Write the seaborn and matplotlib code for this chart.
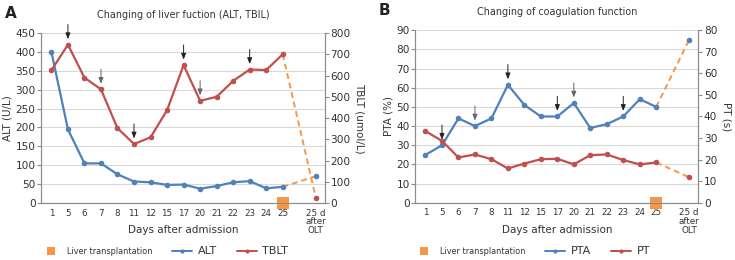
import numpy as np
import pandas as pd
import matplotlib
matplotlib.use("Agg")
import matplotlib.pyplot as plt
import seaborn as sns
from matplotlib.lines import Line2D

# ---------------- data ----------------
day_labels = ["1", "5", "6", "7", "8", "11", "12", "15", "17", "20", "21", "22", "23", "24", "25", "25 d\nafter\nOLT"]

alt = [400, 195, 105, 105, 76, 57, 55, 48, 49, 38, 45, 55, 58, 39, 43]
alt_after = 71
tblt = [625, 745, 590, 535, 352, 278, 309, 437, 649, 481, 500, 575, 628, 626, 700]
tblt_after = 25

pta = [25, 30, 44, 40, 44, 61.5, 51, 45, 45, 52, 39, 41, 45, 54, 50]
pta_after = 85
pt = [33.2, 28.7, 21, 22.4, 20.2, 15.9, 18.2, 20.2, 20.4, 17.8, 22.1, 22.4, 19.8, 17.8, 18.7]
pt_after = 11.8

arrow_idx = [1, 3, 5, 8, 9, 12]
transplant_idx = 14

BLUE = "#4f81bd"
RED = "#c0504d"
ORANGE = "#f79646"
GRID = "#d9d9d9"
SPINE = "#8c8c8c"

sns.set_theme(style="white")
plt.rcParams["font.family"] = ["DejaVu Sans"]

pos = list(range(len(alt))) + [len(alt) + 1]

fig = plt.figure(figsize=(7.35, 2.6), dpi=100)


def panel(rect, left_vals, left_after, right_vals, right_after, left_lim, left_step,
          right_lim, right_step, left_label, right_label, left_name, right_name,
          title, letter, arrow_on_right, leg_x):
    ax = fig.add_axes(rect)
    ax2 = ax.twinx()
    n = len(left_vals)
    x = list(range(n))
    dfl = pd.DataFrame({"x": x, "y": left_vals})
    dfr = pd.DataFrame({"x": x, "y": right_vals})
    sns.lineplot(data=dfl, x="x", y="y", ax=ax, color=BLUE, lw=1.6, marker="o",
                 markersize=4, markeredgewidth=0, zorder=3)
    sns.lineplot(data=dfr, x="x", y="y", ax=ax2, color=RED, lw=1.6, marker="o",
                 markersize=4, markeredgewidth=0, zorder=3)
    # dashed post-OLT segments
    ax.plot([x[-1], pos[-1]], [left_vals[-1], left_after], ls=(0, (3, 2)), color=ORANGE, lw=1.4, zorder=2)
    ax.plot([pos[-1]], [left_after], "o", color=BLUE, ms=4, mew=0, zorder=3)
    ax2.plot([x[-1], pos[-1]], [right_vals[-1], right_after], ls=(0, (3, 2)), color=ORANGE, lw=1.4, zorder=2)
    ax2.plot([pos[-1]], [right_after], "o", color=RED, ms=4, mew=0, zorder=3)
    # transplantation marker
    ax.plot([transplant_idx], [0], "s", color=ORANGE, ms=8, mew=0, clip_on=False, zorder=5)

    ax.set_xlim(-0.62, pos[-1] + 0.55)
    ax.set_ylim(0, left_lim)
    ax2.set_ylim(0, right_lim)
    ax.set_yticks(np.arange(0, left_lim + 1, left_step))
    ax2.set_yticks(np.arange(0, right_lim + 1, right_step))
    ax.set_xticks(pos)
    ax.set_xticklabels(day_labels, fontsize=6.3, va="top", linespacing=0.95)
    ax.tick_params(axis="x", length=0, pad=4, colors="#333333")
    ax.tick_params(axis="y", labelsize=7.6, length=3, width=0.8, color=SPINE, pad=1, labelcolor="#333333")
    ax2.tick_params(axis="y", labelsize=7.6, length=3, width=0.8, color=SPINE, pad=1, labelcolor="#333333")
    ax.yaxis.grid(True, color=GRID, lw=0.8)
    ax.set_axisbelow(True)
    for a in (ax, ax2):
        a.spines["top"].set_visible(False)
        for s in ("left", "right", "bottom"):
            a.spines[s].set_color(SPINE)
            a.spines[s].set_linewidth(0.8)
    ax.set_xlabel("Days after admission", fontsize=7.5, color="#333333")
    ax.xaxis.set_label_coords(0.5, -0.16)
    ax.xaxis.label.set_va("center")
    ax.set_ylabel(left_label, fontsize=7.5, color="#333333", labelpad=2)
    ax2.set_ylabel(right_label, fontsize=7.5, color="#333333", rotation=-90, labelpad=10)
    ax.set_title(title, fontsize=6.9, color="#333333", pad=11)
    ax.text(-0.128, 1.16, letter, transform=ax.transAxes, fontsize=11, fontweight="bold",
            color="#222222", va="top", ha="left")

    # arrows
    arr_ax = ax2 if arrow_on_right else ax
    arr_vals = right_vals if arrow_on_right else left_vals
    for i in arrow_idx:
        c = "#666666" if i in (3, 9) else "#222222"
        arr_ax.annotate("", xy=(i, arr_vals[i]), xytext=(0, 14.5), textcoords="offset points",
                        arrowprops=dict(arrowstyle="-|>,head_length=0.3,head_width=0.12",
                                        color=c, lw=0.7, shrinkA=0, shrinkB=4))

    handles = [
        Line2D([], [], marker="s", color=ORANGE, ls="none", ms=6, mew=0),
        Line2D([], [], marker="o", color=BLUE, lw=1.4, ms=3, mew=0),
        Line2D([], [], marker="o", color=RED, lw=1.4, ms=3, mew=0),
    ]
    leg = fig.legend(handles, ["Liver transplantation", left_name, right_name],
                     loc="center", bbox_to_anchor=(leg_x, 0.033), ncol=3, frameon=False,
                     fontsize=8, handlelength=1.8, columnspacing=1.8, handletextpad=0.5,
                     borderpad=0, borderaxespad=0)
    for t, fs in zip(leg.get_texts(), [5.9, 8, 8]):
        t.set_fontsize(fs)
        t.set_color("#333333")
    return ax, ax2


panel([0.056, 0.219, 0.386, 0.654], alt, alt_after, tblt, tblt_after, 450, 50, 800, 100,
      "ALT (U/L)", "TBLT (umol/L)", "ALT", "TBLT",
      "Changing of liver fuction (ALT, TBIL)", "A", True, 0.224)
panel([0.565, 0.22, 0.385, 0.664], pta, pta_after, pt, pt_after, 90, 10, 80, 10,
      "PTA (%)", "PT (s)", "PTA", "PT",
      "Changing of coagulation function", "B", False, 0.724)

fig.savefig("out.png", dpi=100)
